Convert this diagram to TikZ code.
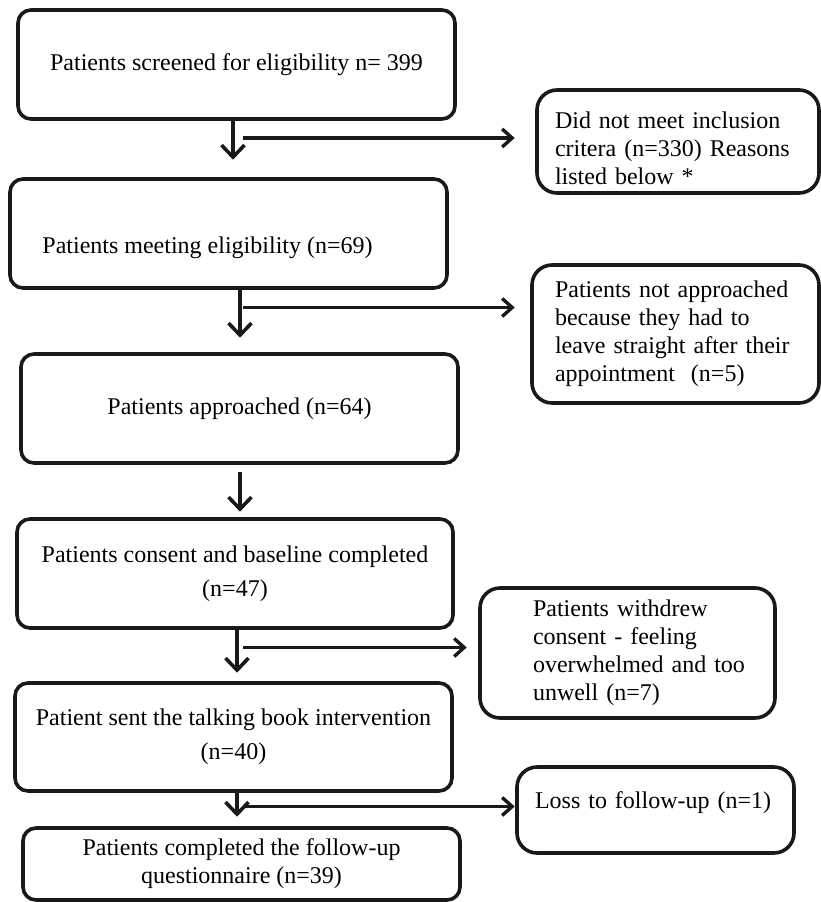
\documentclass[tikz,border=0pt]{standalone}
\usepackage{fontspec}
\setmainfont{Liberation Serif}
\usetikzlibrary{arrows.meta}
\begin{document}
\begin{tikzpicture}[x=1pt,y=-1pt,
  every node/.style={font=\fontsize{24}{28}\selectfont, text=black},
  mainbox/.style={draw=black!90, line width=3.6pt, rounded corners=13pt, align=center, inner sep=0pt},
  sidebox/.style={draw=black!90, line width=3.6pt, rounded corners=20pt, align=left, inner sep=0pt},
  varr/.style={line width=3.6pt, draw=black!90, -{Straight Barb[length=12pt,width=23pt]}},
  harr/.style={line width=3.4pt, draw=black!90, -{Straight Barb[length=10pt,width=18pt]}}]
\path[use as bounding box, fill=white] (0,0) rectangle (821,902);

\node[mainbox, minimum width=437pt, minimum height=109pt] (b1) at (236.5,64.5) {Patients screened for eligibility n= 399};
\node[sidebox, minimum width=282pt, minimum height=103pt, text width=246pt] (s1) at (678,141.5) {\raisebox{-7pt}[\height][\depth]{\parbox{246pt}{\raggedright Did not meet inclusion\\ critera (n=330) Reasons\\ listed below *}}};
\node[mainbox, minimum width=437pt, minimum height=109pt] (b2) at (228.5,233.5) {\raisebox{-14pt}[\height][\depth]{\hspace*{-42pt}Patients meeting eligibility (n=69)}};
\node[sidebox, minimum width=287pt, minimum height=138pt, text width=241pt] (s2) at (675.5,334) {Patients not approached\\ because they had to\\ leave straight after their\\ appointment\ \ (n=5)};
\node[mainbox, minimum width=437pt, minimum height=109pt] (b3) at (239.5,408.5) {Patients approached (n=64)};
\node[mainbox, minimum width=436pt, minimum height=109pt] (b4) at (235,573.5) {Patients consent and baseline completed\\[6pt] (n=47)};
\node[sidebox, minimum width=295pt, minimum height=130pt, text width=189pt] (s3) at (627.5,653) {Patients withdrew\\ consent - feeling\\ \mbox{overwhelmed and too}\\ unwell (n=7)};
\node[mainbox, minimum width=437pt, minimum height=108pt] (b5) at (233.5,737) {Patient sent the talking book intervention\\[6pt] (n=40)};
\node[sidebox, minimum width=277pt, minimum height=86pt, text width=241pt] (s4) at (655.5,810) {\raisebox{7pt}[\height][\depth]{Loss to follow-up (n=1)}};
\node[mainbox, minimum width=437pt, minimum height=72pt] (b6) at (241.5,864) {Patients completed the follow-up\\ questionnaire (n=39)};

\coordinate (a1) at (233,138);
\coordinate (a2) at (240,307.5);
\coordinate (a4) at (237,647.5);
\coordinate (a5) at (237,806.5);

\draw[varr, shorten >=17.5pt] (b1.south -| a1) -- (b2.north -| a1);
\draw[harr, shorten >=20.5pt] ([xshift=10pt]a1) -- (s1.west |- a1);
\draw[varr, shorten >=14.5pt] (b2.south -| a2) -- (b3.north -| a2);
\draw[harr, shorten >=15.5pt] ([xshift=3pt]a2) -- (s2.west |- a2);
\draw[varr, shorten <=7.5pt, shorten >=5.5pt] (b3.south -| a2) -- (b4.north -| a2);
\draw[varr, shorten >=8.5pt] (b4.south -| a4) -- (b5.north -| a4);
\draw[harr, shorten >=11.5pt] ([xshift=6pt]a4) -- (s3.west |- a4);
\draw[varr, shorten >=9.5pt] (b5.south -| a5) -- (b6.north -| a5);
\draw[harr, shorten >=0.5pt] ([xshift=6pt]a5) -- (s4.west |- a5);
\end{tikzpicture}
\end{document}
